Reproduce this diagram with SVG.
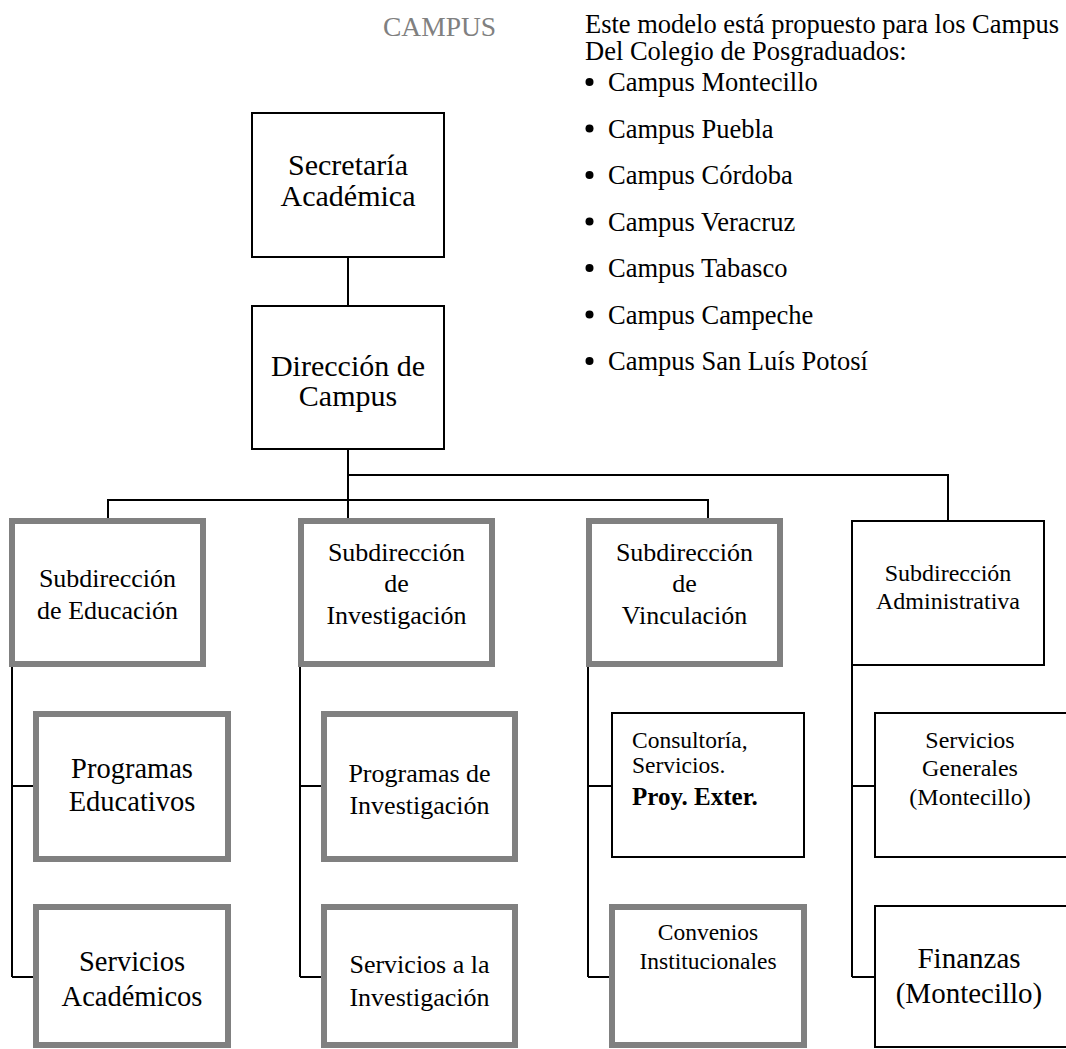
<svg xmlns="http://www.w3.org/2000/svg" width="1066" height="1049" viewBox="0 0 1066 1049">
<style>
text{font-family:"Liberation Serif","Times New Roman",serif;fill:#000}
.c{text-anchor:middle}
.g{fill:#fff;stroke:#808080;stroke-width:6}
.k{fill:#fff;stroke:#000;stroke-width:2}
.ln{fill:none;stroke:#000;stroke-width:2}
.b{fill:#000}
</style>
<rect width="1066" height="1049" fill="#fff"/>
<g id="connectors">
<path class="ln" d="M348 257V306M348 449V521M348 475H948V521M108 521V500H708V521"/>
<path class="ln" d="M12 667V977M12 786H33M12 977H33"/>
<path class="ln" d="M300 667V977M300 786H321M300 977H321"/>
<path class="ln" d="M588 667V977M588 786H611M588 977H609"/>
<path class="ln" d="M852 665V977M852 786H875M852 977H875"/>
</g>
<g id="header">
<text x="383" y="36" font-size="27.5" style="fill:#808080">CAMPUS</text>
<text x="585" y="33" font-size="26.5">Este modelo está propuesto para los Campus</text>
<text x="585" y="60" font-size="26.5">Del Colegio de Posgraduados:</text>
<g id="bullets">
<circle class="b" cx="589.5" cy="82" r="4"/>
<circle class="b" cx="589.5" cy="128.5" r="4"/>
<circle class="b" cx="589.5" cy="175" r="4"/>
<circle class="b" cx="589.5" cy="221.5" r="4"/>
<circle class="b" cx="589.5" cy="268" r="4"/>
<circle class="b" cx="589.5" cy="314.5" r="4"/>
<circle class="b" cx="589.5" cy="361" r="4"/>
</g>
<g font-size="26.5">
<text x="608" y="91">Campus Montecillo</text>
<text x="608" y="137.5">Campus Puebla</text>
<text x="608" y="184">Campus Córdoba</text>
<text x="608" y="230.5">Campus Veracruz</text>
<text x="608" y="277">Campus Tabasco</text>
<text x="608" y="323.5">Campus Campeche</text>
<text x="608" y="370">Campus San Luís Potosí</text>
</g>
</g>
<g id="secretaria">
<rect class="k" x="252" y="113" width="192" height="144"/>
<text class="c" x="348" y="175" font-size="30">Secretaría</text>
<text class="c" x="348" y="206" font-size="30">Académica</text>
</g>
<g id="direccion">
<rect class="k" x="252" y="306" width="192" height="143"/>
<text class="c" x="348" y="376" font-size="30">Dirección de</text>
<text class="c" x="348" y="406" font-size="30">Campus</text>
</g>
<g id="sub-educacion">
<rect class="g" x="12" y="521" width="191" height="143"/>
<text class="c" x="107.5" y="587" font-size="26">Subdirección</text>
<text class="c" x="107.5" y="619" font-size="26">de Educación</text>
</g>
<g id="sub-investigacion">
<rect class="g" x="301" y="521" width="191" height="143"/>
<text class="c" x="396.5" y="561" font-size="26">Subdirección</text>
<text class="c" x="396.5" y="592" font-size="26">de</text>
<text class="c" x="396.5" y="624" font-size="26">Investigación</text>
</g>
<g id="sub-vinculacion">
<rect class="g" x="589" y="521" width="191" height="143"/>
<text class="c" x="684.5" y="561" font-size="26">Subdirección</text>
<text class="c" x="684.5" y="592" font-size="26">de</text>
<text class="c" x="684.5" y="624" font-size="26">Vinculación</text>
</g>
<g id="sub-administrativa">
<rect class="k" x="852" y="521" width="192" height="144"/>
<text class="c" x="948" y="581" font-size="24">Subdirección</text>
<text class="c" x="948" y="609" font-size="24">Administrativa</text>
</g>
<g id="programas-educativos">
<rect class="g" x="36" y="714" width="192" height="145"/>
<text class="c" x="132" y="778" font-size="28.5">Programas</text>
<text class="c" x="132" y="811" font-size="28.5">Educativos</text>
</g>
<g id="servicios-academicos">
<rect class="g" x="36" y="907" width="192" height="138"/>
<text class="c" x="132" y="971" font-size="28.5">Servicios</text>
<text class="c" x="132" y="1006" font-size="28.5">Académicos</text>
</g>
<g id="programas-investigacion">
<rect class="g" x="324" y="714" width="191" height="145"/>
<text class="c" x="419.5" y="782" font-size="26">Programas de</text>
<text class="c" x="419.5" y="814" font-size="26">Investigación</text>
</g>
<g id="servicios-investigacion">
<rect class="g" x="324" y="907" width="191" height="138"/>
<text class="c" x="419.5" y="973" font-size="26">Servicios a la</text>
<text class="c" x="419.5" y="1006" font-size="26">Investigación</text>
</g>
<g id="consultoria">
<rect class="k" x="612" y="713" width="192" height="144"/>
<text x="632" y="748" font-size="23.5">Consultoría,</text>
<text x="632" y="773" font-size="23.5">Servicios.</text>
<text x="632" y="805" font-size="25" font-weight="bold">Proy. Exter.</text>
</g>
<g id="convenios">
<rect class="g" x="612" y="907" width="192" height="138"/>
<text class="c" x="708" y="940" font-size="23.5">Convenios</text>
<text class="c" x="708" y="969" font-size="23.5">Institucionales</text>
</g>
<g id="servicios-generales">
<rect class="k" x="875" y="713" width="192" height="144"/>
<text class="c" x="970" y="748" font-size="24">Servicios</text>
<text class="c" x="970" y="776" font-size="24">Generales</text>
<text class="c" x="970" y="805" font-size="24">(Montecillo)</text>
</g>
<g id="finanzas">
<rect class="k" x="875" y="906" width="192" height="141"/>
<text class="c" x="969" y="968" font-size="29">Finanzas</text>
<text class="c" x="969" y="1003" font-size="29">(Montecillo)</text>
</g>
</svg>
